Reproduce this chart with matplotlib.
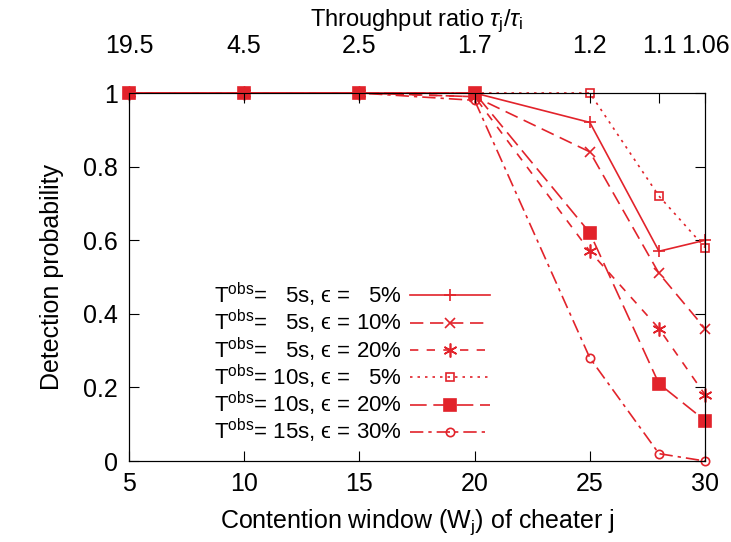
import matplotlib
matplotlib.use('Agg')
import matplotlib.pyplot as plt
from matplotlib.ticker import FormatStrFormatter

plt.rcParams['font.family'] = ['Liberation Sans', 'DejaVu Sans']
plt.rcParams['mathtext.fontset'] = 'custom'
plt.rcParams['mathtext.rm'] = 'Liberation Sans'
plt.rcParams['mathtext.it'] = 'Liberation Sans:italic'
plt.rcParams['mathtext.sf'] = 'Liberation Sans'
plt.rcParams['mathtext.fallback'] = 'stixsans'

# contention window of the cheater
cw = [5, 10, 15, 20, 25, 28, 30]
ratio_labels = ['19.5', '4.5', '2.5', '1.7', '1.2', '1.1', '1.06']

t5_e5 = [1, 1, 1, 1, 0.92, 0.57, 0.60]
t5_e10 = [1, 1, 1, 0.99, 0.84, 0.51, 0.36]
t5_e20 = [1, 1, 1, 0.99, 0.57, 0.36, 0.18]
t10_e5 = [1, 1, 1, 1, 1.0, 0.72, 0.58]
t10_e20 = [1, 1, 1, 1, 0.62, 0.21, 0.11]
t15_e30 = [1, 1, 1, 0.98, 0.28, 0.02, 0.0]

labels = ['T$^{\\rm obs}$=   5s, $\\mathrm{ϵ}$ =   5%',
          'T$^{\\rm obs}$=   5s, $\\mathrm{ϵ}$ = 10%',
          'T$^{\\rm obs}$=   5s, $\\mathrm{ϵ}$ = 20%',
          'T$^{\\rm obs}$= 10s, $\\mathrm{ϵ}$ =   5%',
          'T$^{\\rm obs}$= 10s, $\\mathrm{ϵ}$ = 20%',
          'T$^{\\rm obs}$= 15s, $\\mathrm{ϵ}$ = 30%']

red = '#e2232b'

fig = plt.figure(figsize=(7.31, 5.42), dpi=100)
ax = fig.add_axes([0.1765, 0.1494, 0.788, 0.679])

series = [t5_e5, t5_e10, t5_e20, t10_e5, t10_e20, t15_e30]
styles = [
    dict(linestyle='-', marker='+', ms=9, mfc='none'),
    dict(dashes=(8, 4), marker='x', ms=7, mfc='none'),
    dict(dashes=(5, 5), marker=(6, 2, 0), ms=10, mfc='none'),
    dict(dashes=(1.5, 3), marker='s', ms=6, mfc='none'),
    dict(dashes=(10, 4), marker='s', ms=8, mfc=red, zorder=5),
    dict(dashes=(8, 3, 2, 3), marker='o', ms=6, mfc='none'),
]
for ys, st, lab in zip(series, styles, labels):
    ax.plot(cw, ys, color=red, lw=1.2, mec=red, mew=1.2, label=lab,
            clip_on=False, **st)

ax.set_xlim(5, 30)
ax.set_ylim(0, 1)
ax.set_xticks([5, 10, 15, 20, 25, 30])
ax.set_yticks([0, 0.2, 0.4, 0.6, 0.8, 1])
ax.yaxis.set_major_formatter(FormatStrFormatter('%g'))
ax.tick_params(direction='in', length=7, labelsize=18, right=True, pad=8)
ax.set_xlabel(r'Contention window (W$_{\rm j}$) of cheater j', fontsize=18, labelpad=8)
ax.set_ylabel('Detection probability', fontsize=18, labelpad=14)

top = ax.twiny()
top.set_xlim(5, 30)
top.set_xticks(cw)
top.set_xticklabels(ratio_labels)
top.tick_params(direction='in', length=7, labelsize=18, pad=25)
top.set_xlabel(r'Throughput ratio $\tau_{\rm j}/\tau_{\rm i}$', fontsize=17, labelpad=6)

leg = ax.legend(loc='lower left', bbox_to_anchor=(0.12, 0.0), frameon=False,
                markerfirst=False, fontsize=16, labelspacing=-0.04,
                handlelength=3.6, handletextpad=0.4, borderpad=0.2)
for t in leg.get_texts():
    t.set_ha('right')

fig.savefig('out.png', dpi=100)
